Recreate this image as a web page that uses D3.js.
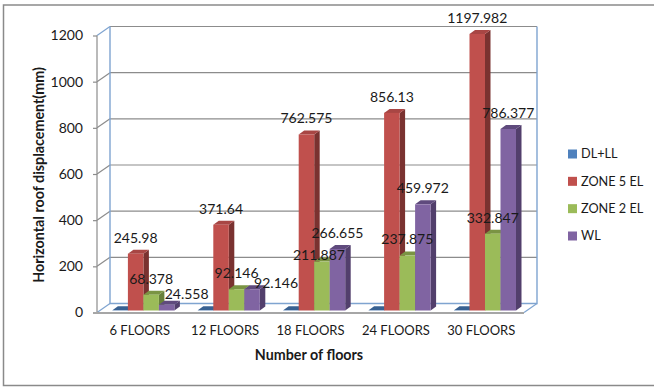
<html lang="en">

<head>
  <meta charset="UTF-8">
  <title>Horizontal roof displacement</title>
  <script src="https://d3js.org/d3.v7.min.js"></script>
</head>

<style>
  body {
    margin: 0;
    background: #fff;
  }

  text {
    font-family: Lato, "Open Sans", sans-serif;
    fill: #1a1a1a;
  }

  .axis .domain {
    stroke: none;
  }

  .axis line {
    stroke: #8c8c8c;
  }
</style>

<body>
  <svg class="chartsvg" width="654" height="387"></svg>
  <script>
    const categories = ['6 FLOORS', '12 FLOORS', '18 FLOORS', '24 FLOORS', '30 FLOORS'];
    const seriesNames = ['DL+LL', 'ZONE 5 EL', 'ZONE 2 EL', 'WL'];
    const dlLL = [1, 1, 1, 1, 1]; // no labels on this series, barely above zero
    const zone5 = [245.98, 371.64, 762.575, 856.13, 1197.982];
    const zone2 = [68.378, 92.146, 211.887, 237.875, 332.847];
    const wl = [24.558, 92.146, 266.655, 459.972, 786.377];
    const yTicks = [0, 200, 400, 600, 800, 1000, 1200];

    const seriesValues = [dlLL, zone5, zone2, wl];
    const front = ['#4f81bd', '#c0504d', '#9bbb59', '#8064a2'];
    const side = ['#2f5078', '#7a3230', '#67803a', '#523f6c'];
    const top_ = ['#386192', '#a84644', '#7a9443', '#5f4a7d'];

    const svg = d3.select('svg.chartsvg');

    // chart box
    svg.append('rect')
      .attr('x', 3.5).attr('y', 5)
      .attr('width', 660).attr('height', 380.5)
      .attr('fill', '#fff')
      .attr('stroke', '#8a8a8a')
      .attr('stroke-width', 1.5);

    // front plane of the 3d box, walls sit behind by wallX / wallY
    const wallX = 13, wallY = -9;
    const xLeft = 97, xRight = 524;
    const x = d3.scaleBand().domain(categories).range([xLeft, xRight]);
    const y = d3.scaleLinear().domain([0, 1200]).range([312.5, 35.5]);

    const barWidth = 15.5;
    const barDepthX = 5.5, barDepthY = -4;
    const barLift = 2; // bars stand slightly behind the front edge of the floor
    const xBar = d3.scaleBand().domain(seriesNames)
      .range([0, barWidth * seriesNames.length]);
    const groupOffset = (x.bandwidth() - xBar.range()[1]) / 2 + 3.7;

    // back wall gridlines and the little diagonals to the front axis
    const grid = svg.append('g');
    yTicks.forEach(t => {
      if (t > 0) {
        grid.append('line')
          .attr('x1', xLeft + wallX).attr('x2', xRight + wallX)
          .attr('y1', y(t) + wallY).attr('y2', y(t) + wallY)
          .attr('stroke', '#8c8c8c').attr('stroke-width', 1.2);
      }
      grid.append('line')
        .attr('x1', xLeft).attr('x2', xLeft + wallX)
        .attr('y1', y(t)).attr('y2', y(t) + wallY)
        .attr('stroke', t == 0 || t == 1200 ? '#7fa4d0' : '#8c8c8c')
        .attr('stroke-width', 1.2);
    });

    // blue wall edges
    svg.append('path')
      .attr('fill', 'none')
      .attr('stroke', '#7fa4d0')
      .attr('stroke-width', 1.4)
      .attr('d', d3.line()([
        [xLeft + wallX, y(1200) + wallY],
        [xLeft + wallX, y(0) + wallY],
        [xRight + wallX, y(0) + wallY],
        [xRight + wallX, y(1200) + wallY]
      ]));

    svg.append('line')
      .attr('x1', xRight).attr('y1', y(0))
      .attr('x2', xRight + wallX).attr('y2', y(0) + wallY)
      .attr('stroke', '#7fa4d0').attr('stroke-width', 1.2);

    // left axis
    svg.append('g')
      .attr('class', 'axis')
      .attr('transform', `translate(${xLeft},0)`)
      .call(d3.axisLeft(y).tickValues(yTicks).tickFormat(d3.format('d')).tickSize(4).tickPadding(10))
      .call(g => g.selectAll('text').style('font-size', '14px'))
      .call(g => g.selectAll('line').attr('stroke-width', 1.2));

    svg.append('line')
      .attr('x1', xLeft).attr('x2', xLeft)
      .attr('y1', y(1200)).attr('y2', y(0))
      .attr('stroke', '#8c8c8c').attr('stroke-width', 1.2);

    // floor front edge
    svg.append('line')
      .attr('x1', xLeft - 4).attr('x2', xRight)
      .attr('y1', y(0) + 0.5).attr('y2', y(0) + 0.5)
      .attr('stroke', '#a6a6a6').attr('stroke-width', 2);

    // bottom axis, labels only
    svg.append('g')
      .attr('class', 'axis')
      .attr('transform', `translate(0,${y(0)})`)
      .call(d3.axisBottom(x).tickSize(0).tickPadding(13))
      .call(g => g.selectAll('text').style('font-size', '13px'));

    // bars, painted left to right so each covers its neighbour's side face
    const bars = svg.append('g');
    const barLeft = (cat, name) => x(cat) + groupOffset + xBar(name);
    const barTop = v => y(v) - barLift;
    const base = y(0) - barLift;

    categories.forEach((cat, c) => {
      seriesNames.forEach((name, s) => {
        const v = seriesValues[s][c];
        const x0 = barLeft(cat, name), x1 = x0 + barWidth;
        const t = barTop(v);
        const g = bars.append('g');
        g.append('path')
          .attr('fill', side[s])
          .attr('d', d3.line()([
            [x1, base], [x1 + barDepthX, base + barDepthY],
            [x1 + barDepthX, t + barDepthY], [x1, t]
          ]) + 'Z');
        g.append('path')
          .attr('fill', top_[s])
          .attr('d', d3.line()([
            [x0, t], [x0 + barDepthX, t + barDepthY],
            [x1 + barDepthX, t + barDepthY], [x1, t]
          ]) + 'Z');
        g.append('rect')
          .attr('x', x0).attr('y', t)
          .attr('width', barWidth).attr('height', base - t)
          .attr('fill', front[s]);
      });
    });

    // value labels sit over the bar, a few are pushed aside to stay readable
    const nudges = { 'WL|6 FLOORS': [20, 5], 'WL|12 FLOORS': [24, 10], 'ZONE 2 EL|18 FLOORS': [-3, 10] };
    const labels = svg.append('g');
    categories.forEach((cat, c) => {
      seriesNames.forEach((name, s) => {
        if (name == 'DL+LL') return;
        const v = seriesValues[s][c];
        const n = nudges[name + '|' + cat] || [0, 0];
        labels.append('text')
          .attr('x', barLeft(cat, name) + barWidth / 2 + n[0])
          .attr('y', barTop(v) + barDepthY - 12 + n[1])
          .attr('dy', '0.35em')
          .attr('text-anchor', 'middle')
          .style('font-size', '14px')
          .text(v);
      });
    });

    // axis titles
    svg.append('text')
      .attr('x', 309).attr('y', 355)
      .attr('dy', '0.35em')
      .attr('text-anchor', 'middle')
      .style('font-size', '14.3px')
      .style('font-weight', 'bold')
      .text('Number of floors');

    svg.append('text')
      .attr('transform', 'translate(39,175) rotate(-90)')
      .attr('dy', '0.35em')
      .attr('text-anchor', 'middle')
      .style('font-size', '14.3px')
      .style('font-weight', 'bold')
      .text('Horizontal roof displacement(mm)');

    // legend
    const legendY = d3.scalePoint().domain(seriesNames).range([154, 236]);
    const legend = svg.append('g');
    seriesNames.forEach((name, s) => {
      legend.append('rect')
        .attr('x', 568).attr('y', legendY(name) - 4.5)
        .attr('width', 9).attr('height', 9)
        .attr('fill', front[s]);
      legend.append('text')
        .attr('x', 581).attr('y', legendY(name))
        .attr('dy', '0.35em')
        .style('font-size', '12.7px')
        .text(name);
    });
  </script>
</body>

</html>
